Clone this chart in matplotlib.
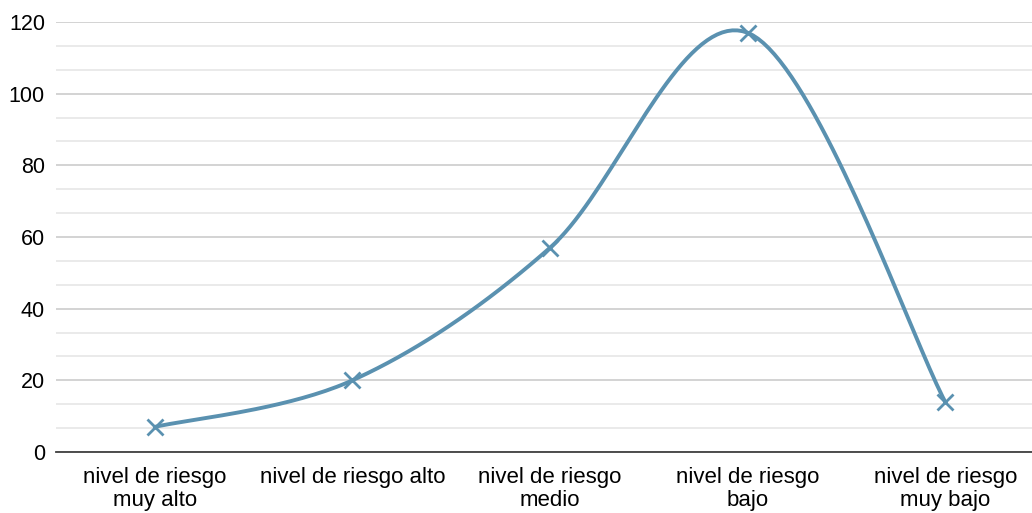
import numpy as np
import matplotlib
matplotlib.use("Agg")
import matplotlib.pyplot as plt
from matplotlib.ticker import MultipleLocator

plt.rcParams["font.family"] = ["Liberation Sans", "DejaVu Sans"]

categories = [
    "nivel de riesgo\nmuy alto",
    "nivel de riesgo alto",
    "nivel de riesgo\nmedio",
    "nivel de riesgo\nbajo",
    "nivel de riesgo\nmuy bajo",
]
values = [7, 20, 57, 117, 14]

LINE_COLOR = "#5a91b0"


def smooth_curve(xs, ys, n=40):
    """Excel-style smoothed line: cubic Bezier segments with Catmull-Rom tangents."""
    pts = np.column_stack([xs, ys]).astype(float)
    padded = np.vstack([pts[0], pts, pts[-1]])
    out = []
    for i in range(len(pts) - 1):
        p0, p1, p2, p3 = padded[i], padded[i + 1], padded[i + 2], padded[i + 3]
        c1 = p1 + (p2 - p0) / 6.0
        c2 = p2 - (p3 - p1) / 6.0
        t = np.linspace(0, 1, n)[:, None]
        seg = ((1 - t) ** 3) * p1 + 3 * ((1 - t) ** 2) * t * c1 \
            + 3 * (1 - t) * t ** 2 * c2 + t ** 3 * p2
        out.append(seg if i == 0 else seg[1:])
    curve = np.vstack(out)
    return curve[:, 0], curve[:, 1]


fig = plt.figure(figsize=(10.32, 5.13), dpi=100)
ax = fig.add_axes([56 / 1032, 61 / 513, 988 / 1032, 430 / 513])

x = np.arange(len(values))
sx, sy = smooth_curve(x, values)
ax.plot(sx, sy, color=LINE_COLOR, linewidth=2.8, solid_capstyle="round", zorder=3)
ax.plot(x, values, linestyle="none", marker="x", markersize=11,
        markeredgewidth=2, color=LINE_COLOR, zorder=4)

ax.set_xlim(-0.5, len(values) - 0.5)
ax.set_ylim(0, 120)
ax.yaxis.set_major_locator(MultipleLocator(20))
ax.yaxis.set_minor_locator(MultipleLocator(20 / 3))
ax.grid(which="major", axis="y", color="#d0d0d0", linewidth=1.3)
ax.grid(which="minor", axis="y", color="#e8e8e8", linewidth=1.3)
ax.set_axisbelow(True)

ax.set_xticks(x)
ax.set_xticklabels(categories, fontsize=16, linespacing=1.12)
ax.tick_params(axis="x", length=0, pad=11)
ax.tick_params(axis="y", which="both", length=0, labelsize=15.5, pad=8)

for side in ["top", "right", "left"]:
    ax.spines[side].set_visible(False)
ax.spines["bottom"].set_color("#404040")
ax.spines["bottom"].set_linewidth(1.3)

fig.savefig("out.png", dpi=100)
